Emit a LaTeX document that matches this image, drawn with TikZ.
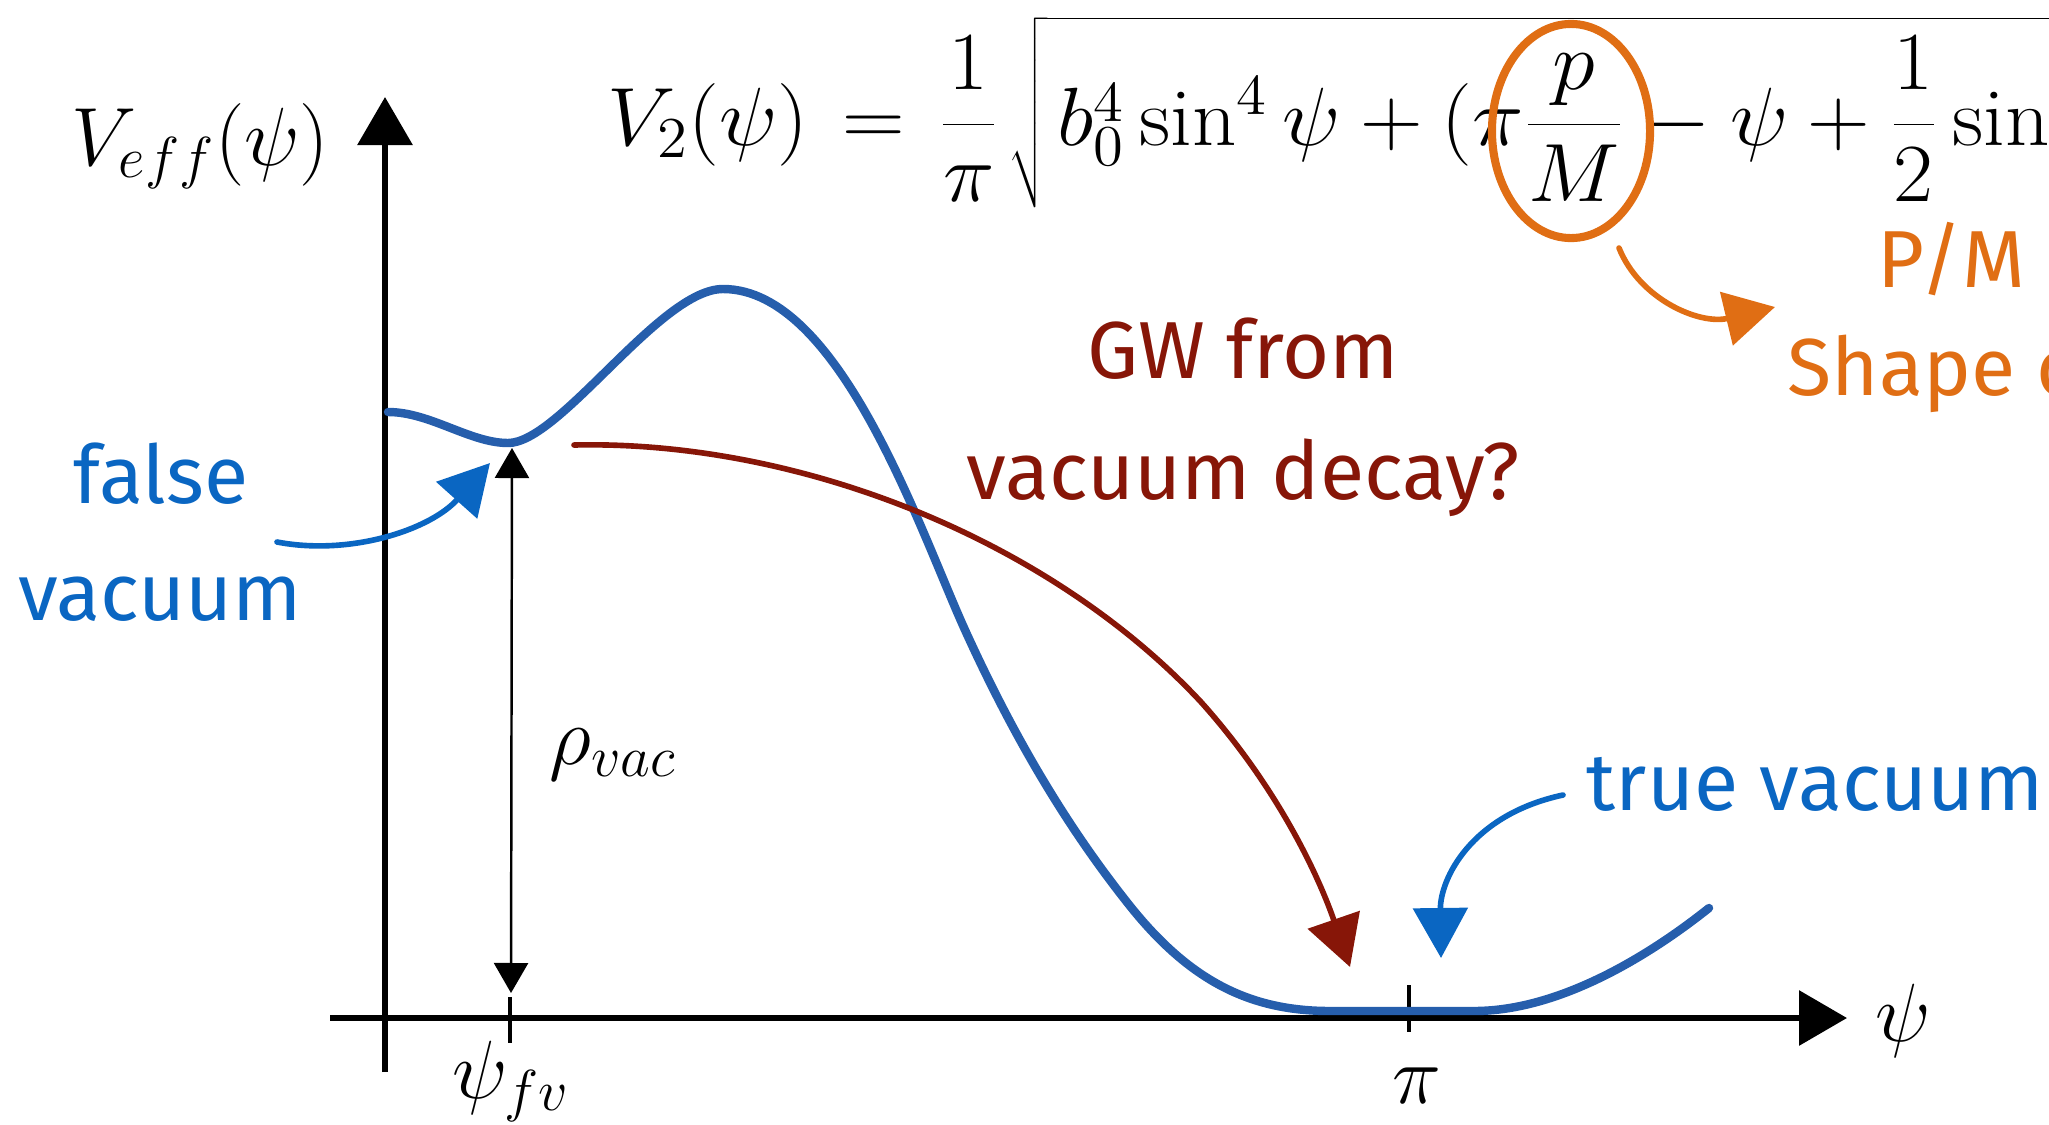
\RequirePackage{fix-cm}
\documentclass[tikz,border=0pt]{standalone}
\usepackage{fontspec}
\usepackage{graphicx}
\newfontfamily\handfont{Fira Sans}
\usepackage{xcolor}
\usetikzlibrary{
    arrows.meta,
    shapes.geometric
}
\definecolor{curveblue}{RGB}{38,94,172}
\definecolor{noteblue}{RGB}{10,102,194}
\definecolor{notered}{RGB}{135,22,8}
\definecolor{noteorange}{RGB}{224,110,20}

\begin{document}
\begin{tikzpicture}[
    x=0.01cm, y=-0.01cm,
    mathlabel/.style={
        font=\fontsize{23.5}{28}\selectfont,
        inner sep=0pt
    },
    hand/.style={
        font=\handfont\fontsize{23}{34}\selectfont,
        inner sep=0pt
    },
    axis/.style={
        -{Triangle[length=4.8mm,width=5.4mm]},
        line width=1.8pt,
        draw=black
    },
    rhoarrow/.style={
        {Triangle[length=3mm,width=3.4mm]}-{Triangle[length=3mm,width=3.4mm]},
        line width=0.7pt,
        draw=black
    },
    notearrow/.style={
        -{Triangle[length=5mm,width=5.4mm]},
        line width=1.6pt,
        line cap=round
    },
    potential/.style={
        draw=curveblue,
        line width=2.4pt,
        line cap=round
    }
]
\useasboundingbox (0,0) rectangle (2049,1124);
\clip (0,0) rectangle (2049,1124);

% =========================================================
% Axes
% =========================================================
\coordinate (xstart) at (330,1018);
\coordinate (xend)   at (1847,1018);
\coordinate (ystart) at (385,1072);
\coordinate (yend)   at (385,97);

\draw[axis] (xstart) -- (xend);
\draw[axis] (ystart) -- (yend);

\draw[line width=1.2pt] (510,997) -- (510,1043);
\draw[line width=1.2pt] (1409,985) -- (1409,1032);

\node[mathlabel, anchor=base west] (veff) at (71,165) {$V_{eff}(\psi)$};
\node[mathlabel, anchor=base] (psiaxis) at (1903,1041) {$\psi$};
\node[mathlabel, anchor=base] (psifv) at (511,1098) {$\psi_{fv}$};
\node[mathlabel, anchor=base] (pilabel) at (1417,1103) {$\pi$};

% =========================================================
% Potential
% =========================================================
\draw[potential] (388,412) .. controls (430,412) and (470,443) .. (508,443)
    .. controls (560,443) and (660,289) .. (723,289)
    .. controls (840,289) and (920,531) .. (965,630)
    .. controls (1020,751) and (1075,837) .. (1130,906)
    .. controls (1190,981) and (1250,1011) .. (1330,1011)
    -- (1474,1011)
    .. controls (1560,1011) and (1650,955) .. (1709,908);

% vacuum energy
\coordinate (fvbottom) at (511,993);
\coordinate (fvtop)    at (512,448);
\draw[rhoarrow] (fvbottom) -- (fvtop);
\node[mathlabel, anchor=base west] (rhovac) at (549,764) {$\rho_{vac}$};

% =========================================================
% Formula
% =========================================================
\node[mathlabel, anchor=base west] (formula) at (607,145)
{\scalebox{1.05}[1]{$\thickmuskip=7mu\displaystyle V_2(\psi)=\frac{1}{\pi}\mkern2mu\sqrt{\mkern2mu b_0^4\sin^4\psi+(\pi\frac{p}{M}-\psi+\frac{1}{2}\sin\hspace{4cm}}$}};

\node[ellipse, draw=noteorange, line width=2.3pt, inner sep=0pt,
      minimum width=15.8mm, minimum height=21.4mm] (pmring) at (1571,131) {};

% =========================================================
% Notes
% =========================================================
\node[hand, text=noteblue, anchor=base] (falsetxt) at (161,503) {false};
\node[hand, text=noteblue, anchor=base] (vacuumtxt) at (160,620) {vacuum};
\coordinate (fvfrom) at (277,542);
\coordinate (fvto)   at (490,463);
\draw[notearrow, noteblue] (fvfrom) .. controls (350,556) and (430,530) .. (fvto);

\node[hand, text=notered, anchor=base] (gwtxt) at (1243,378) {GW from};
\node[hand, text=notered, anchor=base] (decaytxt) at (1243,499) {vacuum decay?};
\coordinate (gwfrom) at (574,445);
\coordinate (gwmid)  at (1201,702);
\coordinate (gwto)   at (1350,967);
\draw[notearrow, notered] (gwfrom) .. controls (800,440) and (1050,540) .. (gwmid)
    .. controls (1280,790) and (1320,880) .. (gwto);

\node[hand, text=noteblue, anchor=base west] (truetxt) at (1586,810) {true vacuum};
\coordinate (tvfrom) at (1563,795);
\coordinate (tvto)   at (1441,958);
\draw[notearrow, noteblue] (tvfrom) .. controls (1470,815) and (1440,880) .. (tvto);

\node[hand, text=noteorange, anchor=base] (pmtxt) at (1951,287) {P/M};
\node[hand, text=noteorange, anchor=base west] (shapetxt) at (1787,395) {Shape o};
\coordinate (pmfrom) at (1619,248);
\coordinate (pmto)   at (1775,307);
\draw[notearrow, noteorange] (pmfrom) .. controls (1640,300) and (1700,325) .. (pmto);

\end{tikzpicture}
\end{document}
